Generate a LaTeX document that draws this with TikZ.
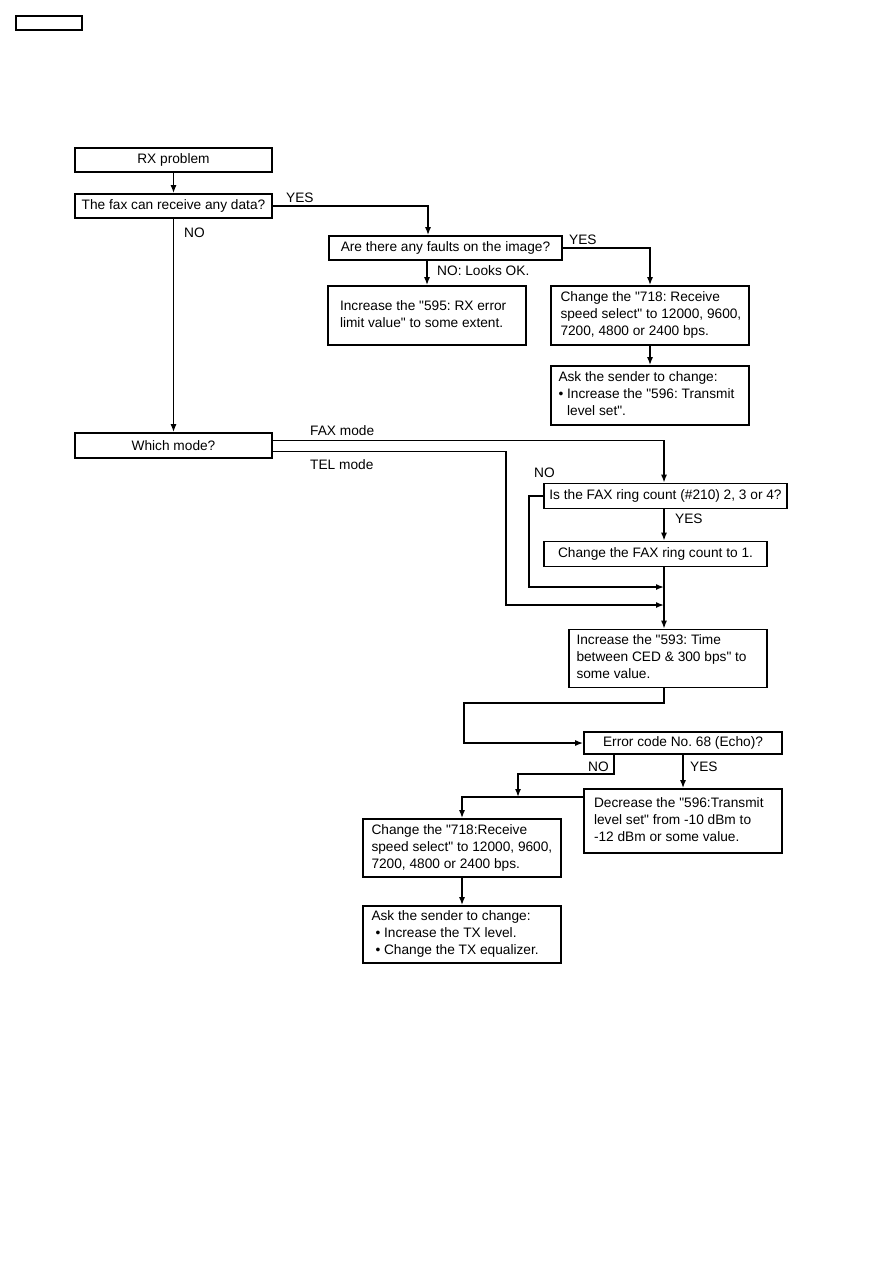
\documentclass[tikz,border=0pt]{standalone}
\usepackage{fontspec}
\setmainfont{Liberation Sans}[Ligatures=TeXOff]
\usetikzlibrary{arrows.meta,calc}
\frenchspacing
\newcommand\fsz{\fontsize{13.7}{17}\selectfont}
\newcommand\ltxt[3]{\makebox[#1][l]{\hspace*{#2}\begin{tabular}{@{}l@{}}#3\end{tabular}}}
\begin{document}
\frenchspacing
\begin{tikzpicture}[x=1pt,y=-1pt,
  box/.style={draw, line width=1.6pt, inner sep=0pt, font=\fsz, align=center},
  lbl/.style={inner sep=0pt, font=\fsz, anchor=base west},
  conn/.style={line width=1.5pt},
  arr/.style={conn, -{Latex[length=8pt,width=6pt]}}]
\useasboundingbox (0,0) rectangle (893,1263);

% boxes
\node[draw, line width=1.4pt, minimum width=66pt, minimum height=14pt, inner sep=0pt] (tag) at (49,23) {};
\node[box, minimum width=197pt, minimum height=24pt] (rx) at (173.5,160) {RX problem};
\node[box, minimum width=197pt, minimum height=24pt] (fax) at (173.5,206) {The fax can receive any data?};
\node[box, minimum width=233pt, minimum height=24pt] (faults) at (445.5,248) {Are there any faults on the image?};
\node[box, minimum height=59pt] (inc595) at (427,315.5) {\ltxt{198pt}{12pt}{Increase the "595: RX error\\limit value" to some extent.}};
\node[box, minimum height=59pt] (chg718a) at (650,315.5) {\ltxt{198pt}{9.5pt}{Change the "718: Receive\\speed select" to 12000, 9600,\\7200, 4800 or 2400 bps.}};
\node[box, minimum height=59pt] (aska) at (650,395.5) {\ltxt{198pt}{7.5pt}{Ask the sender to change:\\• Increase the "596: Transmit\\\hphantom{•\ }level set".}};
\node[box, minimum width=197pt, minimum height=25pt] (mode) at (173.5,445.5) {Which mode?};
\node[box, minimum width=243pt, minimum height=25pt] (ring) at (665.5,496) {Is the FAX ring count (\#210) 2, 3 or 4?};
\node[box, minimum width=223pt, minimum height=25pt] (chgring) at (655.5,554) {Change the FAX ring count to 1.};
\node[box, minimum height=58pt] (inc593) at (668,658.5) {\ltxt{198pt}{7.5pt}{Increase the "593: Time\\between CED \& 300 bps" to\\some value.}};
\node[box, minimum width=198pt, minimum height=22pt] (err) at (683,743) {Error code No. 68 (Echo)?};
\node[box, minimum height=64pt] (dec) at (683,821) {\ltxt{198pt}{10pt}{Decrease the "596:Transmit\\level set" from -10 dBm to\\-12 dBm or some value.}};
\node[box, minimum height=58pt] (chg718b) at (462,848) {\ltxt{198pt}{8.5pt}{Change the "718:Receive\\speed select" to 12000, 9600,\\7200, 4800 or 2400 bps.}};
\node[box, minimum height=57pt] (askb) at (462,934.5) {\ltxt{198pt}{8.5pt}{Ask the sender to change:\\\hspace*{4pt}• Increase the TX level.\\\hspace*{4pt}• Change the TX equalizer.}};

% helper coordinates
\coordinate (cx) at (664,500);
\coordinate (telc) at (506,605);
\coordinate (noc) at (529,587);
\coordinate (bend) at (464,703);
\coordinate (nob) at (518,774);
\coordinate (join) at (500,797);

% connectors
\draw[arr] (rx) -- (fax);
\draw[arr] (fax.east) -| ([xshift=-17.5pt]faults.north);
\draw[arr] (fax) -- (mode);
\draw[arr] (faults.south -| inc595.north) -- (inc595.north);
\draw[arr] (faults.east) -| (chg718a.north);
\draw[arr] (chg718a) -- (aska);
\draw[arr] ([yshift=5pt]mode.east) -| (cx |- ring.north);
\draw[arr] ([yshift=-6pt]mode.east) -| (telc) -- (cx |- telc);
\draw[arr] (ring.west) -| (noc) -- (cx |- noc);
\draw[arr] (cx |- ring.south) -- (cx |- chgring.north);
\draw[arr] (cx |- chgring.south) -- (cx |- inc593.north);
\draw[arr] (cx |- inc593.south) |- (bend) |- (err.west);
\draw[arr] (err) -- (dec);
\draw[arr] ([xshift=-69pt]err.south) |- (nob) -- (nob |- join);
\draw[arr] (dec.west |- join) -| (chg718b.north);
\draw[arr] (chg718b) -- (askb);

% labels
\node[lbl] (yes1) at (286,202) {YES};
\node[lbl] (no1) at (184,237) {NO};
\node[lbl] (yes2) at (569,244) {YES};
\node[lbl] (no2) at (437,275) {NO: Looks OK.};
\node[lbl] (faxm) at (310,435) {FAX mode};
\node[lbl] (telm) at (310,469) {TEL mode};
\node[lbl] (no3) at (534,477) {NO};
\node[lbl] (yes3) at (675,523) {YES};
\node[lbl] (no4) at (588,771) {NO};
\node[lbl] (yes4) at (690,771) {YES};
\end{tikzpicture}
\end{document}
